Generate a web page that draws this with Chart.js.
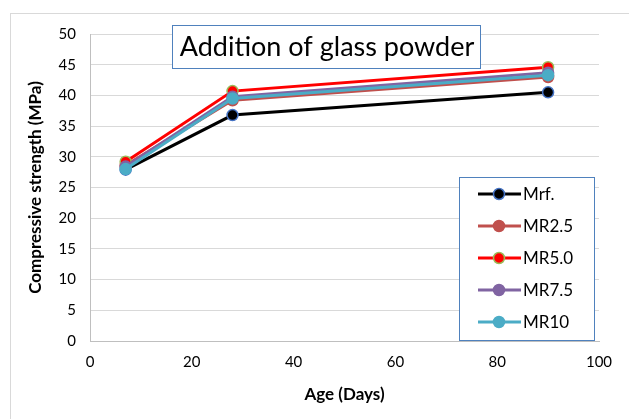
<!DOCTYPE html>
<html>
<head>
<meta charset="utf-8">
<script src="https://cdn.jsdelivr.net/npm/chart.js@4/dist/chart.umd.min.js"></script>
<style>
  html, body { margin: 0; padding: 0; background: #fff; }
  #wrap { width: 629px; height: 419px; }
</style>
</head>
<body>
<div id="wrap"><canvas id="myChart" width="629" height="419"></canvas></div>
<script>
// Дані
var ages = [7, 28, 90];
var mrf = [27.9, 36.8, 40.5];
var mr25 = [28.6, 39.2, 43.0];
var mr50 = [29.2, 40.7, 44.6];
var mr75 = [28.4, 39.8, 43.7];
var mr10 = [28.0, 39.5, 43.3];
var yTicks = [0, 5, 10, 15, 20, 25, 30, 35, 40, 45, 50];
var xTicks = [0, 20, 40, 60, 80, 100];

var FONT = 'Lato, "Liberation Sans", sans-serif';

function pts(vals) {
  return ages.map(function (a, i) { return { x: a, y: vals[i] }; });
}

// order: пізніші серії малюються зверху, як в Excel
function series(label, vals, color, border, order) {
  return {
    label: label,
    data: pts(vals),
    borderColor: color,
    backgroundColor: color,
    pointBackgroundColor: color,
    pointBorderColor: border || color,
    pointBorderWidth: 1.5,
    pointRadius: 5.5,
    borderWidth: 3,
    tension: 0,
    order: order,
  };
}

var data = {
  datasets: [
    series('Mrf.', mrf, '#000000', '#4472C4', 4),
    series('MR2.5', mr25, '#C0504D', null, 3),
    series('MR5.0', mr50, '#FF0000', '#9BBB59', 2),
    series('MR7.5', mr75, '#8064A2', null, 1),
    series('MR10', mr10, '#4BACC6', null, 0),
  ],
};

// Рамка, заголовок і легенда
var boxes = {
  id: 'boxes',
  beforeDraw: function (chart) {
    var c = chart.ctx;
    c.save();
    c.strokeStyle = '#D9D9D9';
    c.lineWidth = 1;
    c.strokeRect(10.5, 13.5, 640, 420);
    c.restore();
  },
  afterDatasetsDraw: function (chart) {
    var c = chart.ctx;
    c.save();
    // заголовок
    c.fillStyle = '#fff';
    c.fillRect(172, 25, 308, 43);
    c.strokeStyle = '#4F81BD';
    c.lineWidth = 1;
    c.strokeRect(172.5, 25.5, 308, 43);
    c.fillStyle = '#000';
    c.font = '27px ' + FONT;
    c.textAlign = 'center';
    c.textBaseline = 'middle';
    c.fillText('Addition of glass powder', 327, 47);
    // легенда
    c.fillStyle = '#fff';
    c.fillRect(459, 177, 135, 163);
    c.strokeRect(459.5, 177.5, 135, 163);
    c.font = '17px ' + FONT;
    c.textAlign = 'left';
    chart.data.datasets.forEach(function (ds, i) {
      var y = 194 + i * 32;
      c.strokeStyle = ds.borderColor;
      c.lineWidth = 3;
      c.beginPath();
      c.moveTo(478, y);
      c.lineTo(521, y);
      c.stroke();
      c.beginPath();
      c.arc(499, y, 5.5, 0, Math.PI * 2);
      c.fillStyle = ds.pointBackgroundColor;
      c.fill();
      c.lineWidth = 1.5;
      c.strokeStyle = ds.pointBorderColor;
      c.stroke();
      c.fillStyle = '#000';
      c.fillText(ds.label, 523, y + 1);
    });
    c.restore();
  },
};

var options = {
  responsive: false,
  animation: false,
  layout: { padding: { left: 0, right: 30, top: 34, bottom: 0 } },
  plugins: { legend: { display: false }, tooltip: { enabled: false } },
  scales: {
    x: {
      type: 'linear',
      min: 0,
      max: 100,
      afterBuildTicks: function (s) { s.ticks = xTicks.map(function (v) { return { value: v }; }); },
      afterFit: function (s) { s.height = 78; },
      grid: { display: false, drawTicks: false },
      border: { color: '#BFBFBF', width: 1 },
      ticks: { color: '#000', font: { family: FONT, size: 15 }, padding: 12, maxRotation: 0 },
      title: { display: true, text: 'Age (Days)', color: '#000', font: { family: FONT, size: 17, weight: 'bold' }, padding: { top: 0, bottom: 14 } },
    },
    y: {
      min: 0,
      max: 50,
      afterBuildTicks: function (s) { s.ticks = yTicks.map(function (v) { return { value: v }; }); },
      afterFit: function (s) { s.width = 90; },
      grid: { color: '#D9D9D9', drawTicks: false },
      border: { color: '#BFBFBF', width: 1 },
      ticks: { color: '#000', font: { family: FONT, size: 15 }, padding: 14 },
      title: { display: true, text: 'Compressive strength (MPa)', color: '#000', font: { family: FONT, size: 17, weight: 'bold' }, padding: { top: 25, bottom: 0 } },
    },
  },
};

var ctx = document.getElementById('myChart').getContext('2d');
var myChart = new Chart(ctx, {
  type: 'line',
  data: data,
  options: options,
  plugins: [boxes],
});
</script>
</body>
</html>
